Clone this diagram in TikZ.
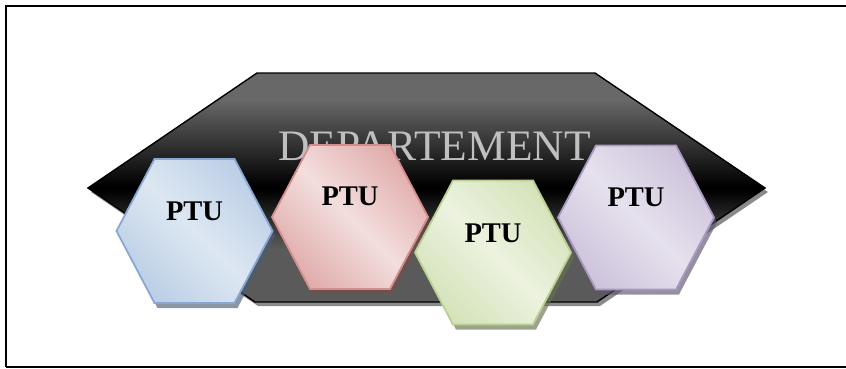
\documentclass[tikz,border=0pt]{standalone}
\usepackage{fontspec}
\setmainfont{Liberation Serif}
\definecolor{gA}{HTML}{686868}
\definecolor{gB}{HTML}{5A5A5A}
\definecolor{shd}{HTML}{8A8A8A}
\definecolor{deptxt}{HTML}{BFBFBF}
\definecolor{bluL}{HTML}{DDE7F2}\definecolor{bluD}{HTML}{BCCFE6}\definecolor{bluB}{HTML}{88A8D2}
\definecolor{redL}{HTML}{F3DEDD}\definecolor{redD}{HTML}{E0ADAC}\definecolor{redB}{HTML}{D38E8C}
\definecolor{grnL}{HTML}{ECF2DF}\definecolor{grnD}{HTML}{D5E3BA}\definecolor{grnB}{HTML}{BACF92}
\definecolor{purL}{HTML}{E6E1ED}\definecolor{purD}{HTML}{CDC3DB}\definecolor{purB}{HTML}{A898C2}
\tikzset{
  hexbox/.style={line width=1.8pt, line join=miter},
  hexshadow/.style={opacity=0.65},
  lbl/.style={inner sep=0pt, anchor=base, font=\bfseries\fontsize{28.5}{31}\selectfont, text=black}
}
\newcommand{\hexpath}[2]{(#1-78,#2) -- (#1-40,#2-72) -- (#1+40,#2-72) -- (#1+78,#2) -- (#1+40,#2+72) -- (#1-40,#2+72) -- cycle}
\newcommand{\hexagonal}[7]{%
  % #1 cx, #2 cy, #3 light, #4 dark, #5 border, #6 name, #7 baseline
  \fill[#5!55!black, hexshadow] \hexpath{#1+3}{#2+5};
  \shade[left color=#4, right color=#4, middle color=#3, shading angle=135] \hexpath{#1}{#2};
  \draw[hexbox, draw=#5] \hexpath{#1}{#2};
  \node[lbl] (#6) at (#1,#7) {PTU};
}
\begin{document}
\begin{tikzpicture}[x=1pt,y=-1pt]
\useasboundingbox (0,0) rectangle (846,369);
% frame
\draw[line width=1.6pt] (6,367) -- (6,6) -- (850,6);
\draw[line width=1.6pt] (6,367) -- (850,367);
% department shape
\fill[shd] (260,77) -- (598,77) -- (768,192) -- (600,306) -- (258,306) -- (91,192) -- cycle;
\begin{scope}
\clip (257,73) -- (595,73) -- (765,188) -- (597,302) -- (255,302) -- (88,188) -- cycle;
\fill[gA] (80,73) rectangle (770,100);
\shade[top color=gA, bottom color=black] (80,99.5) rectangle (770,186);
\fill[black] (80,186) rectangle (770,190);
\shade[top color=black, bottom color=gB] (80,190) rectangle (770,248);
\fill[gB] (80,247.5) rectangle (770,303);
\end{scope}
\draw[line width=1.4pt, line join=miter] (257,73) -- (595,73) -- (765,188) -- (597,302) -- (255,302) -- (88,188) -- cycle;
\node[inner sep=0pt, anchor=base, text=deptxt, font=\fontsize{43.5}{47}\selectfont] (dept) at (434.5,160) {DEPARTEMENT};
% hexagons
\hexagonal{194.5}{231}{bluL}{bluD}{bluB}{ptua}{220}
\hexagonal{350}{217}{redL}{redD}{redB}{ptub}{205}
\hexagonal{493}{252.5}{grnL}{grnD}{grnB}{ptuc}{242}
\hexagonal{636}{217.5}{purL}{purD}{purB}{ptud}{206}
\end{tikzpicture}
\end{document}
